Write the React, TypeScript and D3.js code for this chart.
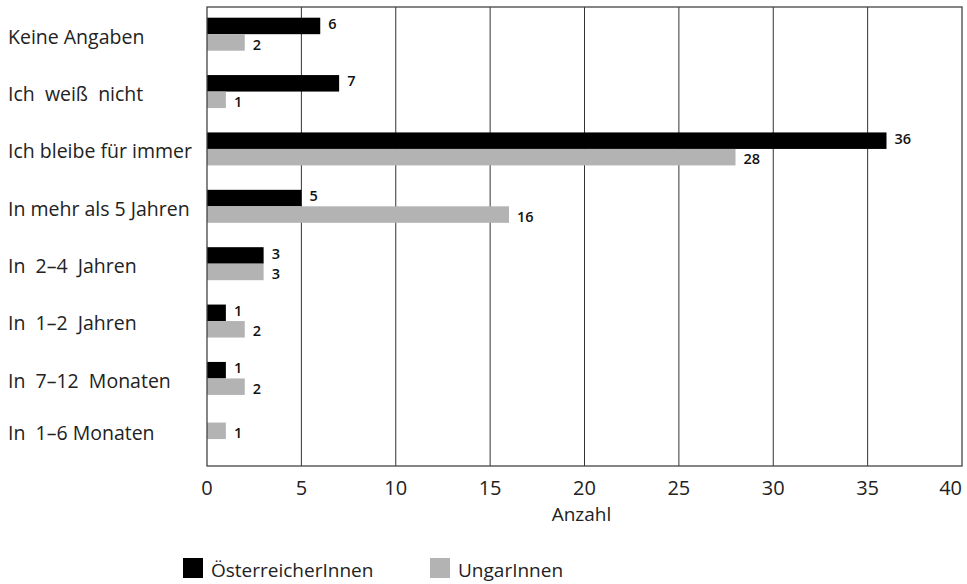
import React from "react";
import * as d3 from "d3";

const categories = [
  "Keine Angaben",
  "Ich  weiß  nicht",
  "Ich bleibe für immer",
  "In mehr als 5 Jahren",
  "In  2–4  Jahren",
  "In  1–2  Jahren",
  "In  7–12  Monaten",
  "In  1–6 Monaten",
];
const austrians = [6, 7, 36, 5, 3, 1, 1, 0];
const hungarians = [2, 1, 28, 16, 3, 2, 2, 1];
const xTicks = [0, 5, 10, 15, 20, 25, 30, 35, 40];
const seriesNames = ["ÖsterreicherInnen", "UngarInnen"];
const colors = ["#000000", "#b3b3b3"];

export default function App() {
  const W = 967, H = 584;
  const left = 207, right = 962, top = 7, bottom = 466;
  const x = d3.scaleLinear().domain([0, 40]).range([left, right]);
  const y = d3.scaleBand().domain(categories).range([top, bottom]);
  const barH = 16.5;
  const font = "'Open Sans', 'Noto Sans', sans-serif";

  return (
    <svg width={W} height={H} style={{ position: "absolute", left: 0, top: 0, whiteSpace: "pre" }} fontFamily={font}>
      <rect x={0} y={0} width={W} height={H} fill="#fff" />
      {xTicks.slice(1, -1).map((t) => (
        <line key={t} x1={x(t)} x2={x(t)} y1={top} y2={bottom} stroke="#333" strokeWidth={1} />
      ))}
      {categories.map((c, i) => {
        const b = y(c)!;
        const center = b + y.bandwidth() / 2 - 1.5;
        const a = austrians[i];
        const h = hungarians[i];
        const only = a === 0;
        const gy = only ? center - barH / 2 - 5 : center;
        return (
          <g key={c}>
            <text x={8} y={b + y.bandwidth() / 2 + 1 + (only ? -5 : 0)} dy="0.35em" fontSize={19.5} fill="#222" xmlSpace="preserve">
              {c}
            </text>
            {a > 0 && (
              <>
                <rect x={x(0)} y={center - barH} width={x(a) - x(0)} height={barH} fill={colors[0]} />
                <text x={x(a) + 8} y={center - barH / 2 - 2} dy="0.35em" fontSize={14.5} fontWeight={600} fill="#111">
                  {a}
                </text>
              </>
            )}
            <rect x={x(0)} y={gy} width={x(h) - x(0)} height={barH} fill={colors[1]} />
            <text x={x(h) + 8} y={gy + barH / 2 + 2} dy="0.35em" fontSize={14.5} fontWeight={600} fill="#111">
              {h}
            </text>
          </g>
        );
      })}
      <rect x={left} y={top} width={right - left} height={bottom - top} fill="none" stroke="#444" strokeWidth={1.3} />
      {xTicks.map((t, i) => (
        <text
          key={t}
          x={i === xTicks.length - 1 ? x(t) : x(t)}
          y={488}
          dy="0.35em"
          textAnchor={i === xTicks.length - 1 ? "end" : "middle"}
          fontSize={20}
          fill="#222"
        >
          {t}
        </text>
      ))}
      <text x={x(20) - 3} y={514} dy="0.35em" textAnchor="middle" fontSize={19} fill="#222">
        Anzahl
      </text>
      {seriesNames.map((s, i) => {
        const lx = i === 0 ? 183 : 430;
        return (
          <g key={s}>
            <rect x={lx} y={558} width={20} height={20} fill={colors[i]} />
            <text x={lx + 28} y={570} dy="0.35em" fontSize={19} fill="#222">
              {s}
            </text>
          </g>
        );
      })}
    </svg>
  );
}
